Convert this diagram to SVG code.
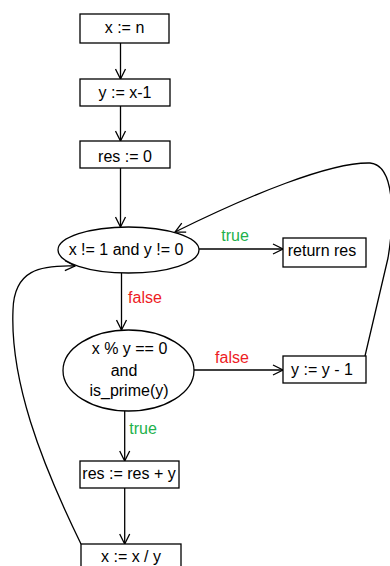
<svg xmlns="http://www.w3.org/2000/svg" width="390" height="566" viewBox="0 0 390 566">
<style>
.box{fill:#fff;stroke:#000;stroke-width:1.3}
.t{font-family:"Liberation Sans",Arial,sans-serif;font-size:16px;fill:#000;text-anchor:middle}
.g{fill:#22b14c}
.r{fill:#ed1c24}
.c{fill:none;stroke:#000;stroke-width:1.3}
</style>
<defs>
<marker id="a" viewBox="0 0 12 12" refX="11" refY="6" markerWidth="12" markerHeight="12" markerUnits="userSpaceOnUse" orient="auto">
<polyline points="1,1 11,6 1,11" fill="none" stroke="#000" stroke-width="1.3"/>
</marker>
</defs>
<rect width="390" height="566" fill="#fff"/>
<g id="connectors">
<line class="c" x1="120.5" y1="43" x2="120.5" y2="79" marker-end="url(#a)"/>
<line class="c" x1="120.5" y1="106" x2="120.5" y2="141" marker-end="url(#a)"/>
<line class="c" x1="120.5" y1="168" x2="120.5" y2="227" marker-end="url(#a)"/>
<line class="c" x1="199" y1="249" x2="283" y2="249" marker-end="url(#a)"/>
<line class="c" x1="121.5" y1="273" x2="121.5" y2="330" marker-end="url(#a)"/>
<line class="c" x1="194" y1="370" x2="283" y2="370" marker-end="url(#a)"/>
<line class="c" x1="124.7" y1="411" x2="124.7" y2="461" marker-end="url(#a)"/>
<line class="c" x1="124.7" y1="488" x2="124.7" y2="544" marker-end="url(#a)"/>
<path class="c" d="M365 356 L388 258 C394 222 396 165 370 163 C330 162 250 195 175 232" marker-end="url(#a)"/>
<path class="c" d="M81 544 C40 460 10 380 13 310 C14 270 40 265 75 266" marker-end="url(#a)"/>
<text class="t g" x="235" y="241">true</text>
<text class="t r" x="145" y="303">false</text>
<text class="t r" x="232" y="363">false</text>
<text class="t g" x="143" y="434">true</text>
</g>
<g id="n1"><rect class="box" x="80" y="14" width="89" height="29"/><text class="t" x="124.5" y="33">x := n</text></g>
<g id="n2"><rect class="box" x="80" y="79" width="90" height="27"/><text class="t" x="125" y="98">y := x-1</text></g>
<g id="n3"><rect class="box" x="80" y="141" width="90" height="27"/><text class="t" x="125" y="162">res := 0</text></g>
<g id="n4"><ellipse class="box" cx="128.5" cy="250" rx="70.5" ry="23"/><text class="t" x="126" y="255">x != 1 and y != 0</text></g>
<g id="n5"><rect class="box" x="283" y="238" width="83" height="29"/><text class="t" x="322" y="256">return res</text></g>
<g id="n6"><ellipse class="box" cx="128.5" cy="370.5" rx="65.5" ry="40.5"/><text class="t" x="129.5" y="354">x % y == 0</text><text class="t" x="124" y="376">and</text><text class="t" x="129" y="396">is_prime(y)</text></g>
<g id="n7"><rect class="box" x="283" y="356" width="83" height="27"/><text class="t" x="322" y="375">y := y - 1</text></g>
<g id="n8"><rect class="box" x="80" y="461" width="99" height="27"/><text class="t" x="129" y="479">res := res + y</text></g>
<g id="n9"><rect class="box" x="81" y="544" width="100" height="27"/><text class="t" x="131" y="562">x := x / y</text></g>
</svg>
